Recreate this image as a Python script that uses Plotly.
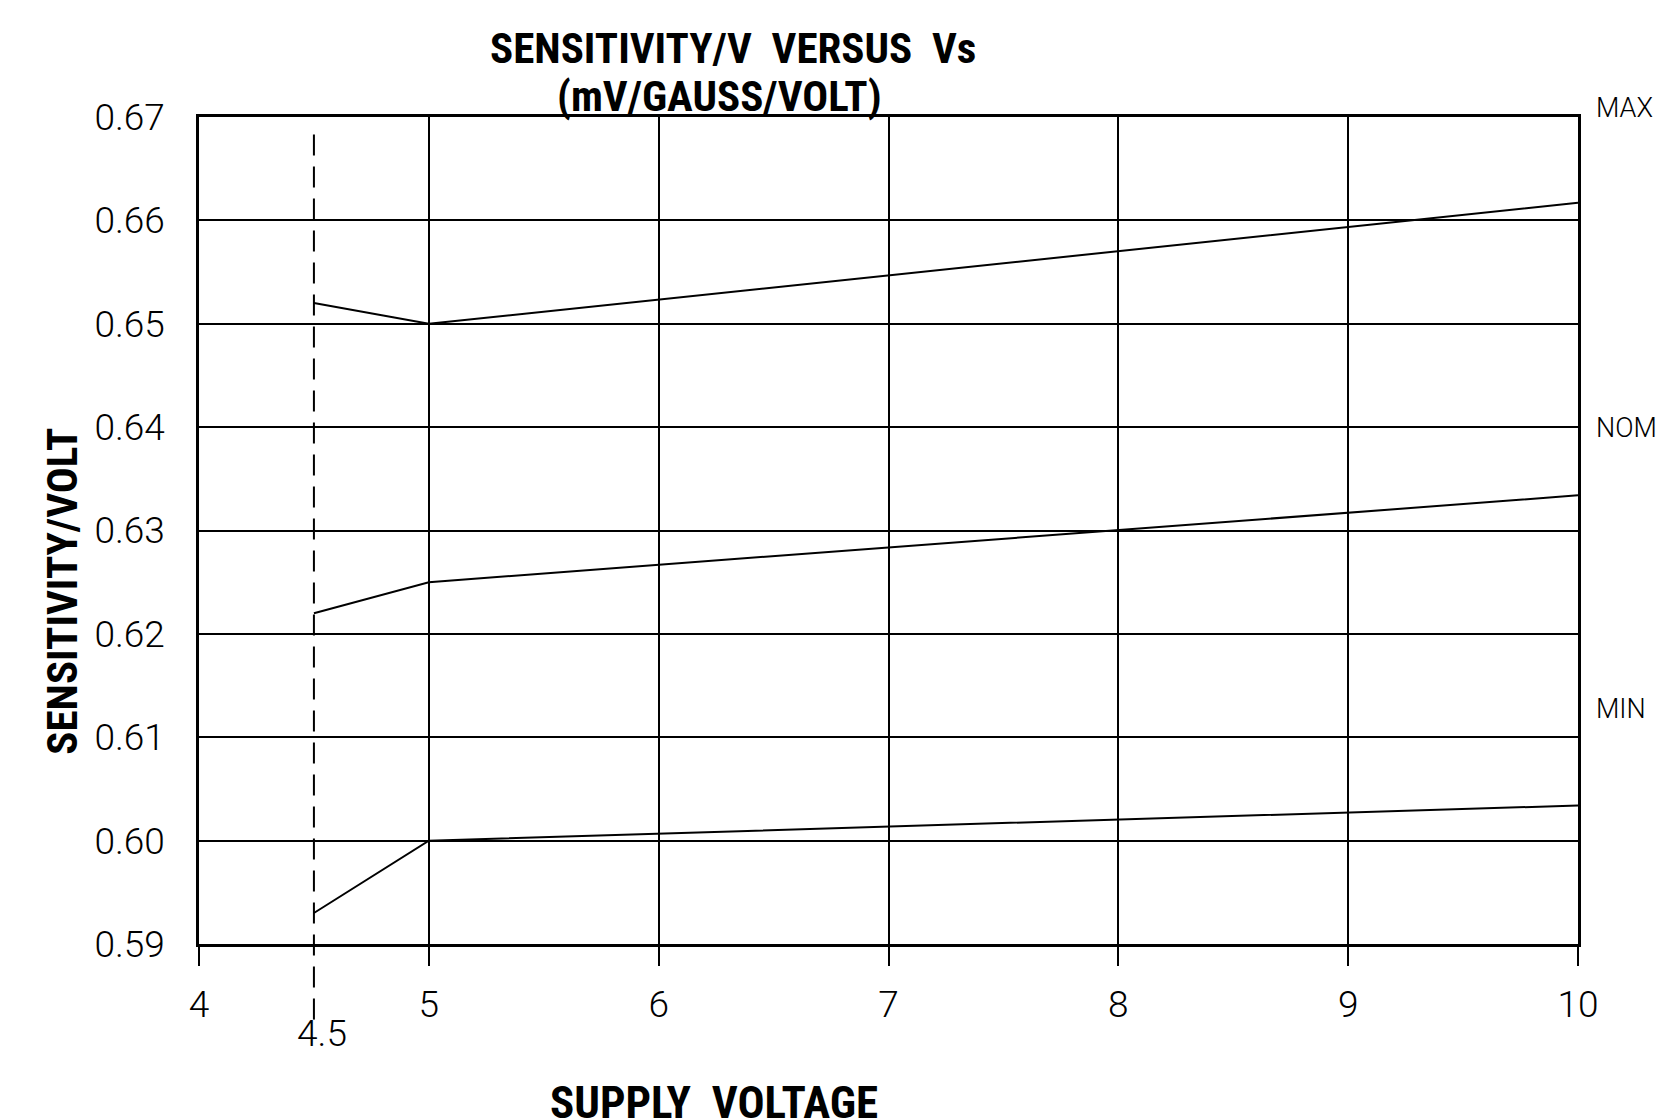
import plotly.graph_objects as go

# ---- data ----
supply_v = [4.5, 5, 10]
sens_max = [0.652, 0.650, 0.6617]
sens_nom = [0.622, 0.625, 0.6334]
sens_min = [0.593, 0.600, 0.6034]
series_names = ["MAX", "NOM", "MIN"]
x_ticks = [4, 5, 6, 7, 8, 9, 10]
x_ticklabels = ["4", "5", "6", "7", "8", "9", "10"]
y_ticks = [0.59, 0.60, 0.61, 0.62, 0.63, 0.64, 0.65, 0.66, 0.67]
y_ticklabels = ["0.59", "0.60", "0.61", "0.62", "0.63", "0.64", "0.65", "0.66", "0.67"]
v_ref = 4.5
v_ref_label = "4.5"
title_line1 = "SENSITIVITY/V  VERSUS  Vs"
title_line2 = "(mV/GAUSS/VOLT)"
x_title = "SUPPLY  VOLTAGE"
y_title = "SENSITIVITY/VOLT"

W, H = 1666, 1120
L, R, T, B = 191, 95.5, 109.2, 183.6
PW = W - L - R
PH = H - T - B

def px(xp):
    return (xp - L) / PW

def py(yp):
    return (H - B - yp) / PH

thin = dict(family="Roboto, Liberation Sans Narrow, DejaVu Sans", size=37, color="black", weight=300)
label_font = dict(family="Roboto, Liberation Sans Narrow, DejaVu Sans", size=27, color="black", weight=300)
bold = dict(family="Liberation Sans Narrow, Roboto Condensed, DejaVu Sans Condensed, Arial Narrow", size=43, color="black", weight="bold")
bold_x = dict(bold, size=45)

fig = go.Figure()
for name, vals in zip(series_names, [sens_max, sens_nom, sens_min]):
    fig.add_trace(go.Scatter(x=supply_v, y=vals, mode="lines", name=name,
                             line=dict(color="black", width=2), showlegend=False))

fig.update_layout(
    width=W, height=H,
    margin=dict(l=L, r=R, t=T, b=B),
    paper_bgcolor="white", plot_bgcolor="white",
    showlegend=False,
)
fig.update_xaxes(
    range=[4, 10], tickvals=x_ticks, ticktext=x_ticklabels,
    showgrid=True, gridcolor="black", gridwidth=2, zeroline=False,
    showline=True, linecolor="black", linewidth=2.5, mirror=True,
    ticks="outside", ticklen=19, tickwidth=2, tickcolor="black",
    tickfont=thin, ticklabelstandoff=7,
)
fig.update_yaxes(
    range=[0.59, 0.67], tickvals=y_ticks, ticktext=y_ticklabels,
    showgrid=True, gridcolor="black", gridwidth=2, zeroline=False,
    showline=True, linecolor="black", linewidth=2.5, mirror=True,
    ticks="", tickfont=thin, ticklabelstandoff=24,
)

# dashed reference line at 4.5 V
fig.add_shape(type="line", xref="x", yref="paper", x0=v_ref, x1=v_ref,
              y0=py(1012), y1=py(122),
              line=dict(color="black", width=2, dash="21px,11px"))

ann = []
ann.append(dict(text=title_line1, x=px(725), y=py(40), font=bold))
ann.append(dict(text=title_line2, x=px(712), y=py(88), font=bold))
ann.append(dict(text=x_title, x=px(706), y=py(1123), font=bold_x, yanchor="bottom"))
ann.append(dict(text=y_title, x=px(54), y=py(584), font=bold, textangle=-90))
ann.append(dict(text=v_ref_label, x=px(314), y=py(1026), font=thin))
for name, yp in zip(series_names, [100, 420, 701]):
    ann.append(dict(text=name, x=px(1587), y=py(yp), font=label_font, xanchor="left"))
for a in ann:
    a.setdefault("xanchor", "center")
    a.setdefault("yanchor", "middle")
    a.update(xref="paper", yref="paper", showarrow=False)
    fig.add_annotation(**a)

fig.write_html("out.html")
